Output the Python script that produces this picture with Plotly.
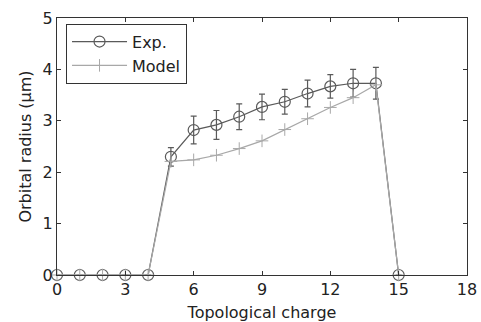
import plotly.graph_objects as go

charge = [0, 1, 2, 3, 4, 5, 6, 7, 8, 9, 10, 11, 12, 13, 14, 15]
exp_radius = [0, 0, 0, 0, 0, 2.30, 2.82, 2.92, 3.08, 3.27, 3.37, 3.53, 3.67, 3.73, 3.73, 0]
exp_err = [0, 0, 0, 0, 0, 0.18, 0.27, 0.28, 0.25, 0.25, 0.24, 0.26, 0.23, 0.27, 0.31, 0]
model_radius = [0, 0, 0, 0, 0, 2.21, 2.24, 2.33, 2.46, 2.61, 2.83, 3.04, 3.26, 3.45, 3.70, 0]

x_ticks = [0, 3, 6, 9, 12, 15, 18]
y_ticks = [0, 1, 2, 3, 4, 5]

FONT = "DejaVu Sans"
exp_color = "#5a5a5a"
model_color = "#a8a8a8"

fig = go.Figure()
fig.add_trace(go.Scatter(
    x=charge, y=exp_radius, name="Exp.", mode="lines+markers", cliponaxis=False,
    line=dict(color=exp_color, width=1.2),
    marker=dict(symbol="circle-open", size=11, color=exp_color, line=dict(width=1.2)),
    error_y=dict(type="data", array=[e if e > 0 else None for e in exp_err],
                 color=exp_color, thickness=1.2, width=3, visible=True),
))
fig.add_trace(go.Scatter(
    x=charge, y=model_radius, name="Model", mode="lines+markers", cliponaxis=False,
    line=dict(color=model_color, width=1.2),
    marker=dict(symbol="line-ns-open", size=9, color=model_color, line=dict(width=1, color=model_color)),
))
fig.add_trace(go.Scatter(
    x=charge, y=model_radius, showlegend=False, mode="markers", hoverinfo="skip", cliponaxis=False,
    marker=dict(symbol="line-ew-open", size=9, color=model_color, line=dict(width=1, color=model_color)),
))

axis_common = dict(
    showline=True, linecolor="#333333", linewidth=1.2, mirror="ticks",
    ticks="inside", ticklen=4, tickcolor="#333333", showgrid=False, zeroline=False,
    tickfont=dict(family=FONT, size=16, color="#222222"), automargin=False,
)
fig.update_xaxes(range=[0, 18], tickvals=x_ticks, ticktext=[str(v) for v in x_ticks],
                 title=dict(text="Topological charge", font=dict(family=FONT, size=16, color="#222222"), standoff=8),
                 **axis_common)
fig.update_yaxes(range=[0, 5], tickvals=y_ticks, ticktext=[str(v) for v in y_ticks],
                 title=dict(text="Orbital radius (μm)", font=dict(family=FONT, size=16, color="#222222"), standoff=6),
                 **axis_common)

fig.update_layout(
    width=481, height=322,
    margin=dict(l=57, r=14, t=18, b=47),
    paper_bgcolor="white", plot_bgcolor="white",
    showlegend=True,
    legend=dict(x=0.022, y=0.978, xanchor="left", yanchor="top",
                bgcolor="white", bordercolor="#333333", borderwidth=1,
                font=dict(family=FONT, size=16, color="#222222"),
                tracegroupgap=0, itemwidth=55),
)

fig.write_html("out.html")
